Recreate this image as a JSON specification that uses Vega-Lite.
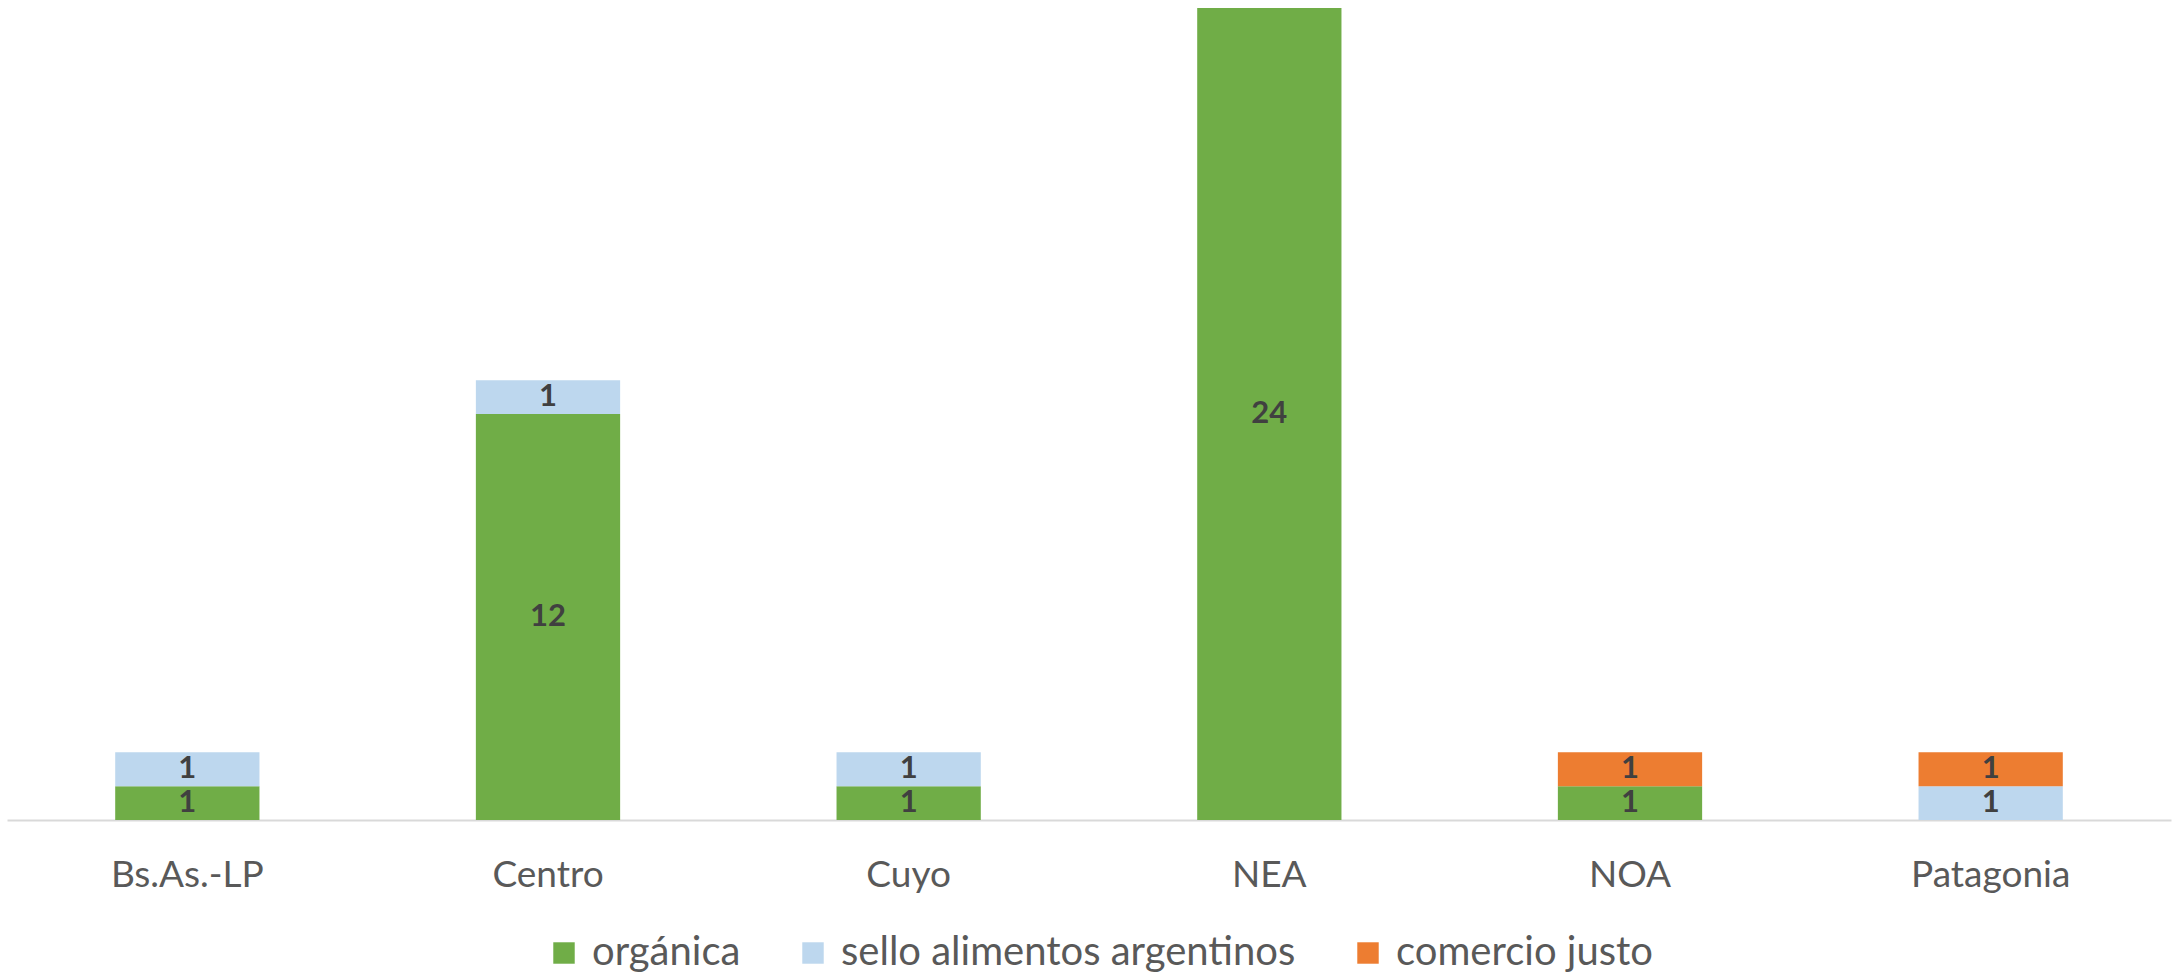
{
  "$schema": "https://vega.github.io/schema/vega-lite/v6.json",
  "width": 2164,
  "height": 812,
  "autosize": {"type": "none"},
  "padding": {"left": 7, "top": 8, "right": 6, "bottom": 154},
  "background": "white",
  "config": {"view": {"stroke": null}, "font": "Lato"},
  "data": {
    "values": [
      {"region": "Bs.As.-LP", "tipo": "orgánica", "orden": 0, "valor": 1},
      {"region": "Bs.As.-LP", "tipo": "sello alimentos argentinos", "orden": 1, "valor": 1},
      {"region": "Centro", "tipo": "orgánica", "orden": 0, "valor": 12},
      {"region": "Centro", "tipo": "sello alimentos argentinos", "orden": 1, "valor": 1},
      {"region": "Cuyo", "tipo": "orgánica", "orden": 0, "valor": 1},
      {"region": "Cuyo", "tipo": "sello alimentos argentinos", "orden": 1, "valor": 1},
      {"region": "NEA", "tipo": "orgánica", "orden": 0, "valor": 24},
      {"region": "NOA", "tipo": "orgánica", "orden": 0, "valor": 1},
      {"region": "NOA", "tipo": "comercio justo", "orden": 2, "valor": 1},
      {"region": "Patagonia", "tipo": "sello alimentos argentinos", "orden": 1, "valor": 1},
      {"region": "Patagonia", "tipo": "comercio justo", "orden": 2, "valor": 1}
    ]
  },
  "transform": [
    {"stack": "valor", "groupby": ["region"], "sort": [{"field": "orden", "order": "ascending"}], "as": ["v0", "v1"]},
    {"calculate": "(datum.v0 + datum.v1) / 2", "as": "vmid"}
  ],
  "encoding": {
    "x": {
      "field": "region",
      "type": "nominal",
      "sort": ["Bs.As.-LP", "Centro", "Cuyo", "NEA", "NOA", "Patagonia"],
      "scale": {"paddingInner": 0.6, "paddingOuter": 0.3},
      "axis": {
        "title": null,
        "labelAngle": 0,
        "ticks": false,
        "labelFontSize": 37,
        "labelColor": "#595959",
        "labelPadding": 37,
        "domainColor": "#D9D9D9",
        "domainWidth": 2
      }
    }
  },
  "layer": [
    {
      "mark": {"type": "bar"},
      "encoding": {
        "y": {"field": "v0", "type": "quantitative", "scale": {"domain": [0, 24], "nice": false}, "axis": null},
        "y2": {"field": "v1"},
        "color": {
          "field": "tipo",
          "type": "nominal",
          "scale": {
            "domain": ["orgánica", "sello alimentos argentinos", "comercio justo"],
            "range": ["#70AD47", "#BDD7EE", "#ED7D31"]
          },
          "legend": {
            "title": null,
            "orient": "none",
            "direction": "horizontal",
            "legendX": 537,
            "legendY": 925,
            "symbolType": "square",
            "symbolSize": 460,
            "symbolStrokeWidth": 0,
            "labelFontSize": 40,
            "labelColor": "#595959",
            "labelOffset": 8,
            "labelLimit": 800,
            "columnPadding": 52
          }
        }
      }
    },
    {
      "mark": {"type": "text", "fontWeight": "bold", "fontSize": 31, "color": "#404040", "baseline": "middle"},
      "encoding": {
        "y": {"field": "vmid", "type": "quantitative"},
        "text": {"field": "valor", "type": "quantitative"}
      }
    }
  ]
}
